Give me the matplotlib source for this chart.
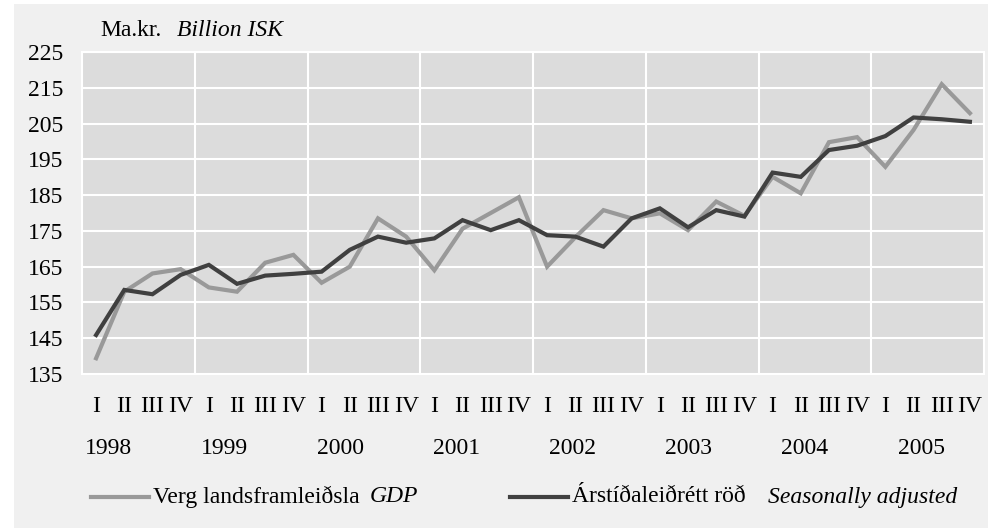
import numpy as np
import matplotlib.pyplot as plt
from matplotlib.lines import Line2D
from matplotlib.patches import Rectangle

years = ["1998", "1999", "2000", "2001", "2002", "2003", "2004", "2005"]
quarters = ["I", "II", "III", "IV"]

# Verg landsframleiðsla (GDP), ma.kr.
gdp = [139.4, 158.0, 163.1, 164.3,
       159.2, 158.0, 166.1, 168.3,
       160.5, 165.0, 178.5, 173.4,
       164.0, 175.6, 180.0, 184.4,
       165.0, 173.2, 180.8, 178.5,
       179.9, 175.2, 183.2, 179.2,
       190.1, 185.5, 199.8, 201.2,
       192.9, 203.2, 216.0, 207.9]

# Árstíðaleiðrétt röð (seasonally adjusted)
sa = [145.9, 158.5, 157.3, 162.7,
      165.5, 160.2, 162.5, 163.0,
      163.6, 169.7, 173.4, 171.7,
      172.9, 178.0, 175.2, 178.0,
      173.8, 173.4, 170.6, 178.5,
      181.3, 176.0, 180.8, 179.0,
      191.3, 190.1, 197.6, 198.8,
      201.5, 206.7, 206.2, 205.5]

yticks = [135, 145, 155, 165, 175, 185, 195, 205, 215, 225]

FONT = "Liberation Serif"
FS = 17
plt.rcParams["font.family"] = FONT

W, H = 1002, 530
fig = plt.figure(figsize=(W / 100, H / 100), dpi=100, facecolor="white")
fig.patches.append(Rectangle((14 / W, 2 / H), 974 / W, 524 / H,
                             transform=fig.transFigure, facecolor="#f0f0f0",
                             edgecolor="none", zorder=-10))

ax = fig.add_axes([82 / W, (H - 374) / H, 902 / W, 322 / H])
ax.set_facecolor("#dcdcdc")

x = np.arange(len(gdp))
ax.plot(x, gdp, color="#999999", lw=3, solid_joinstyle="miter", zorder=3)
ax.plot(x, sa, color="#404040", lw=3, solid_joinstyle="miter", zorder=4)

ax.set_xlim(-0.5, len(gdp) - 0.5)
ax.set_ylim(135, 225)
ax.set_yticks(yticks)
ax.set_yticklabels([str(v) for v in yticks], fontsize=FS)
ax.tick_params(axis="y", length=0, pad=13.5)
ax.set_xticks([])

for v in yticks[1:]:
    ax.axhline(v, color="white", lw=1.5, zorder=1)
for k in range(1, len(years)):
    ax.axvline(4 * k - 0.5, color="white", lw=1.5, zorder=1)
for s in ax.spines.values():
    s.set_color("white")
    s.set_linewidth(1.5)

# quarter and year labels under the axis
trans = ax.get_xaxis_transform()
for i in x:
    ax.text(i, -0.1, quarters[i % 4], transform=trans, ha="center", va="center",
            fontsize=FS)
for k, yr in enumerate(years):
    ax.text(0.43 + 4.12 * k, -0.23, yr, transform=trans, ha="center", va="center",
            fontsize=FS)

# unit label
fig.text(100 / W, 1 - 30 / H, "Ma.kr.", fontsize=FS, va="center", ha="left")
fig.text(177 / W, 1 - 30 / H, "Billion ISK", fontsize=FS, va="center", ha="left",
         style="italic")

# legend
ly = 1 - 497 / H
fig.lines.append(Line2D([91 / W, 149 / W], [ly, ly], color="#999999", lw=3,
                        transform=fig.transFigure))
fig.text(153 / W, ly, "Verg landsframleiðsla", fontsize=FS, va="center")
fig.text(370 / W, ly, "GDP", fontsize=FS, va="center", style="italic")
fig.lines.append(Line2D([510 / W, 568 / W], [ly, ly], color="#404040", lw=3,
                        transform=fig.transFigure))
fig.text(572 / W, ly, "Árstíðaleiðrétt röð", fontsize=FS, va="center")
fig.text(768 / W, ly, "Seasonally adjusted", fontsize=FS, va="center",
         style="italic")

fig.savefig("out.png", dpi=100, facecolor=fig.get_facecolor())
